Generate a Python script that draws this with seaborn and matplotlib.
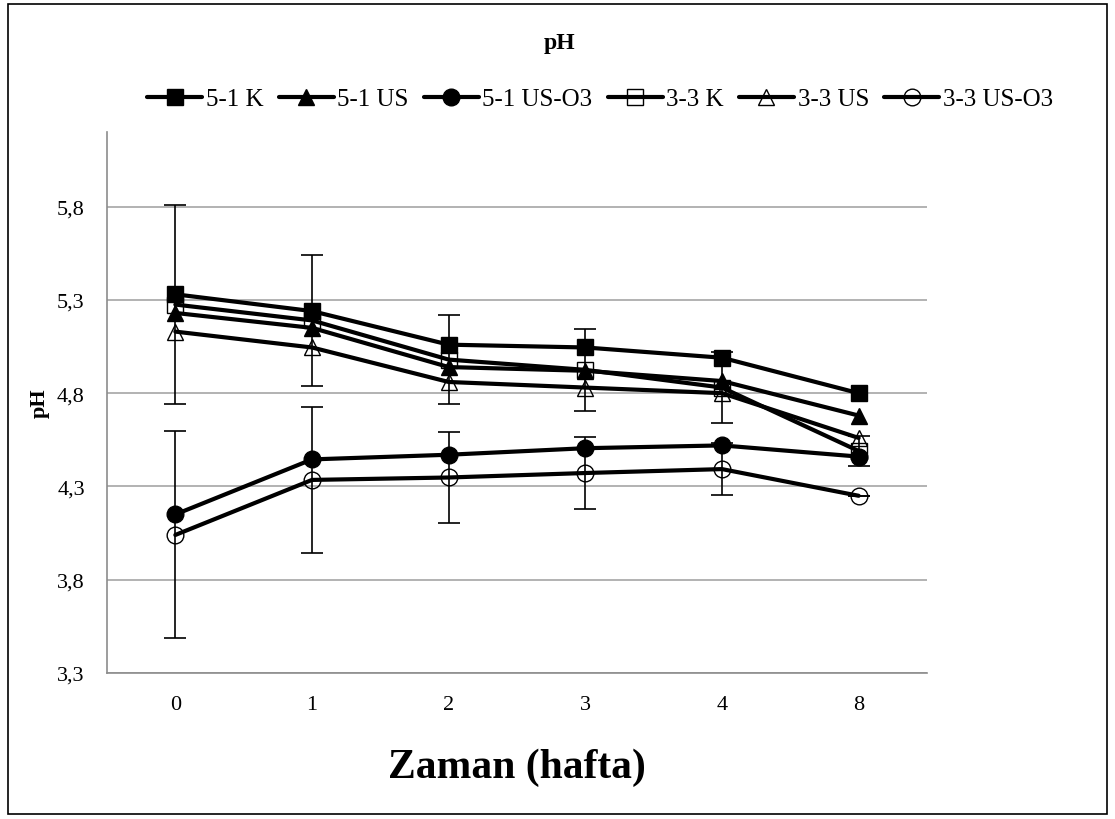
import numpy as np
import pandas as pd
import matplotlib
matplotlib.use("Agg")
import matplotlib.pyplot as plt
import seaborn as sns
from matplotlib.patches import Rectangle

weeks = ["0", "1", "2", "3", "4", "8"]
series_names = ["5-1 K", "5-1 US", "5-1 US-O3", "3-3 K", "3-3 US", "3-3 US-O3"]
k51 = [5.33, 5.24, 5.06, 5.045, 4.99, 4.80]
us51 = [5.23, 5.15, 4.94, 4.92, 4.865, 4.68]
o351 = [4.15, 4.445, 4.47, 4.505, 4.52, 4.46]
k33 = [5.275, 5.19, 4.98, 4.925, 4.83, 4.49]
us33 = [5.13, 5.045, 4.86, 4.83, 4.80, 4.56]
o333 = [4.04, 4.335, 4.348, 4.372, 4.393, 4.25]
k33_err = [0.535, 0.35, 0.24, 0.22, 0.19, 0.08]
o333_err = [0.555, 0.39, 0.245, 0.195, 0.138, 0.0]
yticks = [3.3, 3.8, 4.3, 4.8, 5.3, 5.8]

sns.set_theme(style="white")
plt.rcParams["font.family"] = ["Liberation Serif", "DejaVu Serif"]
plt.rcParams["text.color"] = "black"
plt.rcParams["axes.labelcolor"] = "black"

fig = plt.figure(figsize=(11.15, 8.2), dpi=100)
ax = fig.add_axes([107/1115, 1-674/820, (927-107)/1115, (674-133)/820])

values = [k51, us51, o351, k33, us33, o333]
markers = ["s", "^", "o", "s", "^", "o"]
fills = [True, True, True, False, False, False]
pos = np.arange(len(weeks))

for name, vals, mk, fl in zip(series_names, values, markers, fills):
    df = pd.DataFrame({"x": pos, "y": vals})
    kw = dict(marker=mk, markersize=12 if mk != "s" else 11,
              markeredgecolor="black", markeredgewidth=1.0,
              markerfacecolor="black" if fl else "none")
    sns.lineplot(data=df, x="x", y="y", ax=ax, color="black", linewidth=3.0,
                 label=name, **kw)

for vals, err in [(k33, k33_err), (o333, o333_err)]:
    ax.errorbar(pos, vals, yerr=err, fmt="none", ecolor="black",
                elinewidth=1.2, capsize=8, capthick=1.2, zorder=1)

ax.set_xlim(-0.5, len(weeks) - 0.5)
ax.set_ylim(3.3, 6.2)
ax.set_xticks(pos)
ax.set_xticklabels(weeks)
ax.set_yticks(yticks)
ax.set_yticklabels([f"{v:.1f}".replace(".", ",") for v in yticks])
ax.tick_params(axis="both", length=0, labelsize=16, colors="black")
ax.tick_params(axis="x", pad=16)
ax.tick_params(axis="y", pad=16)
ax.grid(axis="y", color="#A6A6A6", linewidth=1.2)
ax.grid(axis="x", visible=False)
for s in ["top", "right"]:
    ax.spines[s].set_visible(False)
for s in ["left", "bottom"]:
    ax.spines[s].set_color("#8C8C8C")
    ax.spines[s].set_linewidth(1.2)

ax.set_xlabel("Zaman (hafta)", fontsize=30, fontweight="bold", labelpad=24,
              color="black")
ax.set_ylabel("pH", fontsize=16, fontweight="bold", labelpad=5, color="black")

leg = ax.legend(loc="center", bbox_to_anchor=(600/1115, 1-100/820),
                bbox_transform=fig.transFigure, ncol=6, frameon=False,
                fontsize=18, handlelength=2.2, handletextpad=0.15,
                columnspacing=0.6)
for t in leg.get_texts():
    t.set_color("black")

fig.text(560/1115, 1-43/820, "pH", ha="center", va="center",
         fontsize=17, fontweight="bold", color="black")

fig.patches.append(Rectangle((8/1115, 5/820), 1099/1115, 810/820,
                             transform=fig.transFigure, fill=False,
                             edgecolor="black", linewidth=1.2))

fig.savefig("out.png", dpi=100)
